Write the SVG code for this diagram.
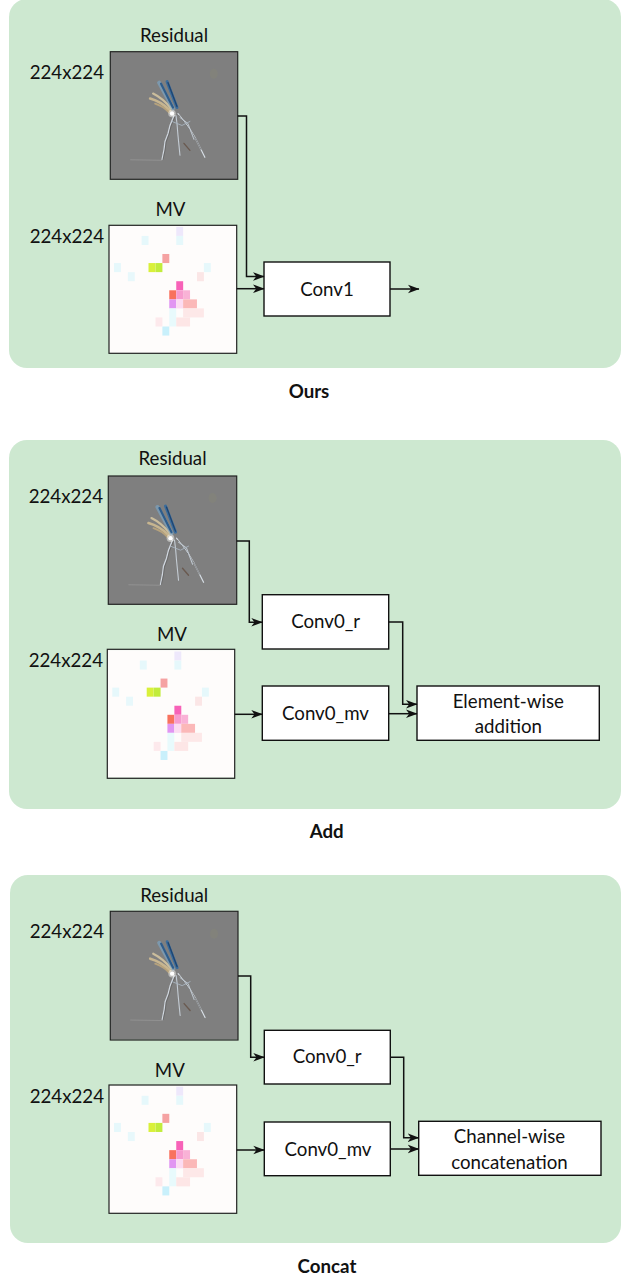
<svg xmlns="http://www.w3.org/2000/svg" xmlns:xlink="http://www.w3.org/1999/xlink" width="621" height="1279" viewBox="0 0 621 1279">
<style>
.panel{fill:#cde8d0;stroke:none}
.box{fill:#ffffff;stroke:#111111;stroke-width:1.4}
.lbl{font-family:Lato,"Liberation Sans",sans-serif;font-size:18.7px;fill:#111111}
.mid{text-anchor:middle}
.end{text-anchor:end}
.cap{font-family:Lato,"Liberation Sans",sans-serif;font-size:18.7px;font-weight:bold;fill:#111111;text-anchor:middle}
.wire{fill:none;stroke:#111111;stroke-width:1.5;marker-end:url(#arr)}
.frame{fill:none;stroke:#222222;stroke-width:1.2}
</style>
<defs>
<marker id="arr" markerUnits="userSpaceOnUse" markerWidth="12" markerHeight="10" refX="11" refY="5" orient="auto" viewBox="0 0 12 10">
<path d="M0,0.7 L11.5,5 L0,9.3 L3.2,5 Z" fill="#111111"/>
</marker>
<filter id="soft" x="-20%" y="-20%" width="140%" height="140%">
<feGaussianBlur stdDeviation="0.7"/>
</filter>
<symbol id="residual" viewBox="0 0 128 128">
<rect width="128" height="128" fill="#7f7f7f"/>
<ellipse cx="104" cy="22" rx="4" ry="5" fill="#858678" opacity="0.5" filter="url(#soft)"/>
<path d="M20,108.5 L52,109" stroke="#969696" stroke-width="0.8" fill="none"/>
<g fill="none" stroke-linecap="round" filter="url(#soft)">
<path d="M40,47 Q51,50 60,59" stroke="#d9c394" stroke-width="2.6" opacity="0.8"/>
<path d="M43,42 Q53,47 61,57" stroke="#e4d1a6" stroke-width="2.2" opacity="0.75"/>
<path d="M45,52 Q54,55 59,61" stroke="#cdb07c" stroke-width="1.8" opacity="0.7"/>
<path d="M49,31 L63,57" stroke="#7aa8cc" stroke-width="4" opacity="0.6"/>
<path d="M51,32 L63,56" stroke="#2f5d8c" stroke-width="2.2"/>
<path d="M57,30 L67,56" stroke="#3a6c9c" stroke-width="3"/>
<path d="M58,31 L67,55" stroke="#1f4470" stroke-width="1.3"/>
</g>
<g fill="none" stroke-linecap="round">
<path d="M64,64 L60,74 L58,82 L55,90 L54,98 L52,108" stroke="#cfd6de" stroke-width="1.3"/>
<path d="M65,65 L61,75 L59,83 L56,91 L55,99 L53,108" stroke="#5a5a5a" stroke-width="0.6"/>
<path d="M66,64 L67,72 L68,84 L69,94 L70,104" stroke="#c4ccd4" stroke-width="1.1"/>
<path d="M68,62 L74,70 L80,78 L85,86 L90,96 L95,106" stroke="#d6dde4" stroke-width="1.2"/>
<path d="M69,64 L75,72 L81,80 L86,88 L91,98" stroke="#4a4a4a" stroke-width="0.6"/>
<path d="M70,66 L78,72 L84,88" stroke="#bfc8d0" stroke-width="1"/>
<path d="M62,70 L72,74 L80,70" stroke="#a8b4bf" stroke-width="0.9"/>
<path d="M74,92 L80,99" stroke="#6a5a50" stroke-width="1.4"/>
</g>
<circle cx="62" cy="62" r="3.8" fill="#f4f4f0" opacity="0.5" filter="url(#soft)"/>
<circle cx="62" cy="62" r="2.2" fill="#ffffff"/>
</symbol>
<symbol id="mv" viewBox="0 0 128 128">
<rect width="128" height="128" fill="#fefcfb"/>
<rect x="67.4" y="1.4" width="6.93" height="9.08" fill="#eee8fb"/>
<rect x="32.7" y="10.5" width="6.93" height="9.08" fill="#e6f8fb"/>
<rect x="67.4" y="10.5" width="6.93" height="9.08" fill="#e6f8fb"/>
<rect x="53.5" y="28.6" width="6.93" height="9.08" fill="#f5a2a2"/>
<rect x="5" y="37.7" width="6.93" height="9.08" fill="#e6f8fb"/>
<rect x="39.6" y="37.7" width="6.93" height="9.08" fill="#d9f03a"/>
<rect x="46.6" y="37.7" width="6.93" height="9.08" fill="#c2ec3c"/>
<rect x="95.1" y="37.7" width="6.93" height="9.08" fill="#e6f8fb"/>
<rect x="18.9" y="46.8" width="6.93" height="9.08" fill="#e8f8fb"/>
<rect x="88.2" y="46.8" width="6.93" height="9.08" fill="#fbe6e6"/>
<rect x="67.4" y="55.9" width="6.93" height="9.08" fill="#f762b8"/>
<rect x="60.4" y="65" width="6.93" height="9.08" fill="#f8725e"/>
<rect x="67.4" y="65" width="6.93" height="9.08" fill="#f79ccf"/>
<rect x="74.3" y="65" width="6.93" height="9.08" fill="#f9b2d6"/>
<rect x="60.4" y="74.1" width="6.93" height="9.08" fill="#e196f2"/>
<rect x="67.4" y="74.1" width="6.93" height="9.08" fill="#fcdcf2"/>
<rect x="74.3" y="74.1" width="13.86" height="9.08" fill="#fbb8b8"/>
<rect x="60.4" y="83.1" width="6.93" height="18.16" fill="#e8fafc"/>
<rect x="74.3" y="83.1" width="20.8" height="9.08" fill="#fde8e8"/>
<rect x="46.6" y="92.2" width="6.93" height="9.08" fill="#fde9ec"/>
<rect x="67.4" y="92.2" width="13.86" height="9.08" fill="#fde6e6"/>
<rect x="53.5" y="101.3" width="6.93" height="9.08" fill="#c9f0fb"/>
</symbol>
</defs>

<g id="panel-ours">
<rect class="panel" x="9" y="-1" width="612" height="369" rx="18"/>
</g>
<g id="panel-add">
<rect class="panel" x="9" y="440" width="612" height="369" rx="18"/>
</g>
<g id="panel-concat">
<rect class="panel" x="10" y="875" width="611" height="368" rx="18"/>
</g>

<!-- Panel 1: Ours -->
<g id="ours-residual">
<text class="lbl mid" x="174" y="42">Residual</text>
<text class="lbl end" x="104" y="79">224x224</text>
<use xlink:href="#residual" x="110.3" y="51.7" width="127.4" height="127.6"/>
<rect class="frame" x="110.3" y="51.7" width="127.4" height="127.6"/>
</g>
<g id="ours-mv">
<text class="lbl mid" x="170.5" y="216">MV</text>
<text class="lbl end" x="104" y="243">224x224</text>
<use xlink:href="#mv" x="109" y="225.3" width="127.7" height="128"/>
<rect class="frame" x="109" y="225.3" width="127.7" height="128"/>
</g>
<g id="ours-conv1">
<rect class="box" x="264" y="262" width="126" height="54"/>
<text class="lbl mid" x="327" y="295.5">Conv1</text>
</g>
<g id="ours-caption">
<text class="cap" x="309" y="398">Ours</text>
</g>

<!-- Panel 2: Add -->
<g id="add-residual">
<text class="lbl mid" x="172.5" y="465">Residual</text>
<text class="lbl end" x="103" y="502.5">224x224</text>
<use xlink:href="#residual" x="108.3" y="476" width="128.4" height="128.3"/>
<rect class="frame" x="108.3" y="476" width="128.4" height="128.3"/>
</g>
<g id="add-mv">
<text class="lbl mid" x="172" y="641">MV</text>
<text class="lbl end" x="103" y="667.3">224x224</text>
<use xlink:href="#mv" x="107.3" y="649.3" width="127.4" height="129"/>
<rect class="frame" x="107.3" y="649.3" width="127.4" height="129"/>
</g>
<g id="add-conv0-r">
<rect class="box" x="262.3" y="594.7" width="126.4" height="54.3"/>
<text class="lbl mid" x="325.7" y="628.3">Conv0_r</text>
</g>
<g id="add-conv0-mv">
<rect class="box" x="262.3" y="686" width="126.4" height="54.3"/>
<text class="lbl mid" x="325.5" y="720">Conv0_mv</text>
</g>
<g id="add-elementwise">
<rect class="box" x="417" y="686" width="182.3" height="54.3"/>
<text class="lbl mid" x="508.3" y="708.3">Element-wise</text>
<text class="lbl mid" x="508.3" y="732.5">addition</text>
</g>
<g id="add-caption">
<text class="cap" x="326.7" y="838.3">Add</text>
</g>

<!-- Panel 3: Concat -->
<g id="concat-residual">
<text class="lbl mid" x="174.2" y="901.7">Residual</text>
<text class="lbl end" x="104" y="937.7">224x224</text>
<use xlink:href="#residual" x="110.3" y="911.3" width="127.7" height="128.7"/>
<rect class="frame" x="110.3" y="911.3" width="127.7" height="128.7"/>
</g>
<g id="concat-mv">
<text class="lbl mid" x="169.8" y="1077.3">MV</text>
<text class="lbl end" x="104" y="1103.3">224x224</text>
<use xlink:href="#mv" x="109" y="1085" width="127.7" height="128.3"/>
<rect class="frame" x="109" y="1085" width="127.7" height="128.3"/>
</g>
<g id="concat-conv0-r">
<rect class="box" x="264.3" y="1030.3" width="126" height="53.7"/>
<text class="lbl mid" x="327.2" y="1063.3">Conv0_r</text>
</g>
<g id="concat-conv0-mv">
<rect class="box" x="264.3" y="1122" width="126" height="53.7"/>
<text class="lbl mid" x="328" y="1156">Conv0_mv</text>
</g>
<g id="concat-channelwise">
<rect class="box" x="418.7" y="1121.3" width="182.3" height="54"/>
<text class="lbl mid" x="509.5" y="1143.3">Channel-wise</text>
<text class="lbl mid" x="509.5" y="1169">concatenation</text>
</g>
<g id="concat-caption">
<text class="cap" x="327" y="1273.3">Concat</text>
</g>

<g id="connectors">
<path class="wire" d="M237.7,116 H246.5 V276.5 H264"/>
<path class="wire" d="M236.7,288.7 H264"/>
<path class="wire" d="M390,289 H419"/>
<path class="wire" d="M236.7,541 H249.3 V622.3 H262.3"/>
<path class="wire" d="M234.7,714.3 H262.3"/>
<path class="wire" d="M388.7,622 H402.7 V704.3 H417"/>
<path class="wire" d="M388.7,713.7 H417"/>
<path class="wire" d="M238,976 H250.7 V1057.3 H264.3"/>
<path class="wire" d="M236.7,1150 H264.3"/>
<path class="wire" d="M390.3,1057.3 H403.7 V1137.7 H418.7"/>
<path class="wire" d="M390.3,1149 H418.7"/>
</g>
</svg>
